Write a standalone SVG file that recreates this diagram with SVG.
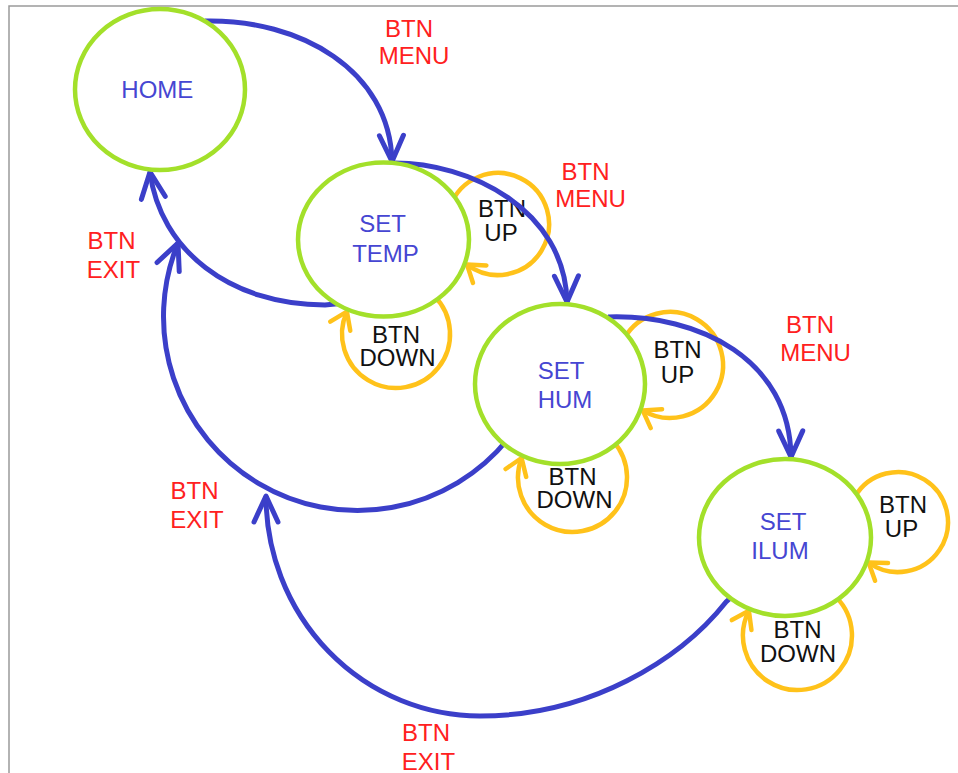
<svg xmlns="http://www.w3.org/2000/svg" width="958" height="773" viewBox="0 0 958 773">
<style>
text{font-family:"Liberation Sans",Arial,sans-serif;font-size:24px;text-anchor:middle}
.node{fill:#ffffff;stroke:#a3e02a;stroke-width:4.5}
.ntext{fill:#4646d2}
.red{fill:#ff2020}
.blk{fill:#111111}
.loop{fill:none;stroke:#ffc21a;stroke-width:4.5}
.edge{fill:none;stroke:#3b3fc9;stroke-width:5}
</style>
<defs>
<marker id="blueArrow" markerUnits="userSpaceOnUse" orient="auto" refX="0" refY="0" markerWidth="30" markerHeight="30" overflow="visible">
<path d="M-26,-12 L0,0 L-26,12" fill="none" stroke="#3b3fc9" stroke-width="5" stroke-linecap="round" stroke-linejoin="round"/>
</marker>
<marker id="orangeArrow" markerUnits="userSpaceOnUse" orient="auto" refX="0" refY="0" markerWidth="30" markerHeight="30" overflow="visible">
<path d="M-16,-11 L0,0 L-16,11" fill="none" stroke="#ffc21a" stroke-width="4.5" stroke-linecap="round" stroke-linejoin="round"/>
</marker>
</defs>
<rect x="0" y="0" width="958" height="773" fill="#ffffff"/>
<path d="M9,773 L9,6 L958,6" fill="none" stroke="#9a9a9a" stroke-width="1.5"/>

<g id="connectors">
<path class="loop" d="M450.1,206.6 A51,51 0 1 1 467,264.5" marker-end="url(#orangeArrow)"/>
<path class="loop" d="M434.2,295.8 A54,54 0 1 1 346.9,311.6" marker-end="url(#orangeArrow)"/>
<path class="loop" d="M624.1,338.5 A53,53 0 1 1 642.7,410.4" marker-end="url(#orangeArrow)"/>
<path class="loop" d="M613,441 A54.5,54.5 0 1 1 521.6,458" marker-end="url(#orangeArrow)"/>
<path class="loop" d="M854.7,497 A50,50 0 1 1 868.6,562.5" marker-end="url(#orangeArrow)"/>
<path class="loop" d="M836,597 A54.5,54.5 0 1 1 748.9,610.8" marker-end="url(#orangeArrow)"/>
<text class="blk" x="502" y="217">BTN</text>
<text class="blk" x="501" y="241">UP</text>
<text class="blk" x="396" y="343">BTN</text>
<text class="blk" x="397.5" y="366">DOWN</text>
<text class="blk" x="677.5" y="358">BTN</text>
<text class="blk" x="677.5" y="383">UP</text>
<text class="blk" x="572.5" y="485">BTN</text>
<text class="blk" x="574.5" y="508">DOWN</text>
<text class="blk" x="903" y="513">BTN</text>
<text class="blk" x="901.5" y="537">UP</text>
<text class="blk" x="797.5" y="638">BTN</text>
<text class="blk" x="798" y="662">DOWN</text>
<path class="edge" d="M205,21 C300,19 390,70 392,161.5" marker-end="url(#blueArrow)"/>
<path class="edge" d="M392,163 C470,162 565,210 567,302" marker-end="url(#blueArrow)"/>
<path class="edge" d="M608,317 C700,314 790,360 791,457" marker-end="url(#blueArrow)"/>
<path class="edge" d="M345,303 L325,305 C230,305 160,250 150,172" marker-end="url(#blueArrow)"/>
<path class="edge" d="M508,439 A194,194 0 0 1 178,243" marker-end="url(#blueArrow)"/>
<path class="edge" d="M735,594 L726,602 C680,660 590,716 480,716 A214,220 0 0 1 266,496" marker-end="url(#blueArrow)"/>
<text class="red" x="409" y="37">BTN</text>
<text class="red" x="414" y="64">MENU</text>
<text class="red" x="585.5" y="180">BTN</text>
<text class="red" x="590.5" y="207">MENU</text>
<text class="red" x="810" y="333">BTN</text>
<text class="red" x="815.5" y="361">MENU</text>
<text class="red" x="111.5" y="249">BTN</text>
<text class="red" x="113.5" y="278">EXIT</text>
<text class="red" x="194.5" y="499">BTN</text>
<text class="red" x="197" y="528">EXIT</text>
<text class="red" x="426" y="741">BTN</text>
<text class="red" x="428.5" y="770">EXIT</text>
</g>

<g id="home">
<ellipse class="node" cx="160" cy="89.5" rx="85" ry="80.5"/>
<text class="ntext" x="157.3" y="98">HOME</text>
</g>
<g id="set-temp">
<ellipse class="node" cx="383.5" cy="239.5" rx="85.5" ry="77"/>
<text class="ntext" x="382.5" y="232">SET</text>
<text class="ntext" x="385.5" y="262">TEMP</text>
</g>
<g id="set-hum">
<ellipse class="node" cx="560" cy="384" rx="85" ry="80"/>
<text class="ntext" x="561" y="379">SET</text>
<text class="ntext" x="565" y="408">HUM</text>
</g>
<g id="set-ilum">
<ellipse class="node" cx="785" cy="537.5" rx="86" ry="78.5"/>
<text class="ntext" x="783" y="530">SET</text>
<text class="ntext" x="780" y="559">ILUM</text>
</g>
</svg>
